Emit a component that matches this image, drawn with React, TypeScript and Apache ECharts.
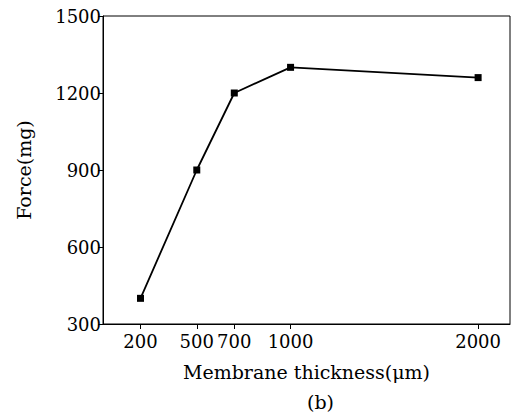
import React, { useEffect, useRef } from "react";
import * as echarts from "echarts";

const thickness = [200, 500, 700, 1000, 2000];
const force = [400, 900, 1200, 1300, 1260];
const xTicks = [200, 500, 700, 1000, 2000];
const yTitle = "Force(mg)";
const xTitle = "Membrane thickness(μm)";
const caption = "(b)";

const FONT = "DejaVu Serif";

export default function App() {
  const ref = useRef<HTMLDivElement>(null);
  useEffect(() => {
    if (!ref.current) return;
    const chart = echarts.init(ref.current, null, { renderer: "svg" });
    chart.setOption({
      animation: false,
      backgroundColor: "#fff",
      grid: {
        left: 103,
        right: 6,
        top: 16,
        bottom: 92,
        show: true,
        borderColor: "#000",
        borderWidth: 1,
      },
      xAxis: {
        type: "value",
        min: 0,
        max: 2170,
        name: xTitle,
        nameLocation: "middle",
        nameGap: 38,
        nameTextStyle: { fontFamily: FONT, fontSize: 19, color: "#000" },
        splitLine: { show: false },
        axisLine: { show: true, lineStyle: { color: "#000", width: 1 } },
        axisTick: { show: true, customValues: xTicks, length: 5, lineStyle: { color: "#000" } },
        axisLabel: {
          customValues: xTicks,
          formatter: (v: number) => String(v),
          fontFamily: FONT,
          fontSize: 18,
          color: "#000",
          margin: 8,
        },
      },
      yAxis: {
        type: "value",
        min: 300,
        max: 1500,
        interval: 300,
        name: yTitle,
        nameLocation: "middle",
        nameGap: 70,
        nameRotate: 90,
        nameTextStyle: { fontFamily: FONT, fontSize: 19, color: "#000" },
        splitLine: { show: false },
        axisLine: { show: true, lineStyle: { color: "#000", width: 1 } },
        axisTick: { show: true, length: 5, lineStyle: { color: "#000" } },
        axisLabel: {
          formatter: (v: number) => String(v),
          fontFamily: FONT,
          fontSize: 18,
          color: "#000",
          margin: 2,
        },
      },
      graphic: [
        {
          type: "text",
          left: 307,
          top: 392,
          style: { text: caption, font: `19px '${FONT}'`, fill: "#000" },
        },
      ],
      series: [
        {
          type: "line",
          data: thickness.map((t, i) => [t, force[i]]),
          symbol: "rect",
          symbolSize: 7,
          lineStyle: { color: "#000", width: 1.8 },
          itemStyle: { color: "#000" },
        },
      ],
    });
    return () => chart.dispose();
  }, []);
  return (
    <div
      ref={ref}
      style={{ position: "fixed", left: 0, top: 0, width: 516, height: 416 }}
    />
  );
}
